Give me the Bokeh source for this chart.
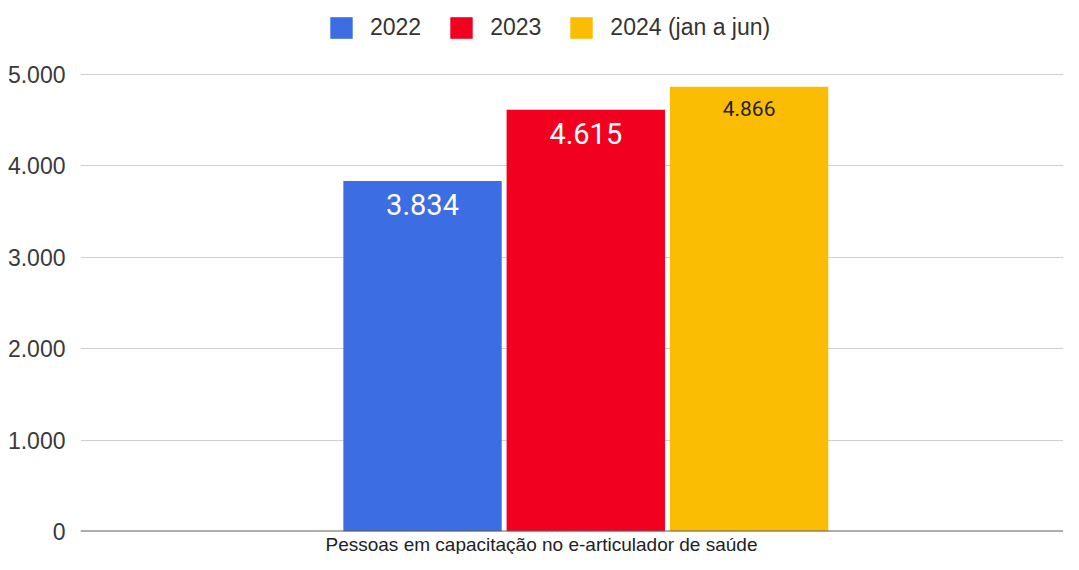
from bokeh.plotting import figure
from bokeh.models import ColumnDataSource, Range1d, FixedTicker, Legend, LegendItem, Span, Title
from bokeh.embed import file_html
from bokeh.resources import INLINE
from bokeh.core.properties import value

# ---- data ----
category = "Pessoas em capacitação no e-articulador de saúde"
series = ["2022", "2023", "2024 (jan a jun)"]
values = [3834, 4615, 4866]
y_ticks = [0, 1000, 2000, 3000, 4000, 5000]

# ---- styles ----
colors = ["#3c6de3", "#f2001f", "#fbbc04"]
label_colors = ["#ffffff", "#ffffff", "#222222"]
label_sizes = ["29px", "29px", "21px"]
label_offsets = [13, 13, 14]
FONT = "Liberation Sans"


def fmt(v):
    return f"{v:,}".replace(",", ".")


src = ColumnDataSource(dict(
    x=list(range(len(values))), top=values, color=colors, name=series,
    label=[fmt(v) for v in values], lc=label_colors, ls=label_sizes, lo=label_offsets,
))

# frame spans the full height above the axis so the legend stays inside it;
# the top tick (5.000) lands 74px from the top of the figure
p = figure(width=1063, height=554, output_backend="svg", toolbar_location=None,
           x_range=Range1d(-2.095, 3.926), y_range=Range1d(0, 5810),
           min_border_left=80, min_border_right=0, min_border_top=0, min_border_bottom=23)
p.outline_line_color = None
p.background_fill_color = "white"

r = p.vbar(x="x", top="top", width=0.97, bottom=0, fill_color="color", line_color=None, source=src)
p.text(x="x", y="top", text="label", text_color="lc", text_font_size="ls", y_offset="lo",
       text_align="center", text_baseline="top", text_font=value("Roboto"), source=src)

# axes
p.yaxis.ticker = FixedTicker(ticks=y_ticks)
p.yaxis.major_label_overrides = {t: fmt(t) for t in y_ticks}
p.yaxis.axis_line_color = None
p.yaxis.major_tick_line_color = None
p.yaxis.minor_tick_line_color = None
p.yaxis.major_label_standoff = 9
p.yaxis.major_label_text_font = FONT
p.yaxis.major_label_text_font_size = "23px"
p.yaxis.major_label_text_color = "#3a3a3a"

p.xaxis.visible = False
p.xgrid.grid_line_color = None
p.ygrid.ticker = FixedTicker(ticks=y_ticks)
p.ygrid.grid_line_color = "#d0d0d0"
p.ygrid.grid_line_width = 1

p.add_layout(Span(location=0, dimension="width", line_color="#5f5f5f", line_width=2))

# category label below the plot
p.add_layout(Title(text=category, align="left", offset=245, standoff=0,
                   text_font=FONT, text_font_size="19px", text_font_style="normal",
                   text_color="#222222"), "below")

# legend
items = [LegendItem(label=s, renderers=[r], index=i) for i, s in enumerate(series)]
legend = Legend(items=items, orientation="horizontal", location=(247, 490),
                glyph_width=28, glyph_height=27, label_standoff=15, spacing=26,
                padding=0, margin=0, border_line_color=None, background_fill_alpha=0,
                label_text_font=FONT, label_text_font_size="23px", label_text_color="#333333")
p.add_layout(legend, "center")

open("out.html", "w").write(file_html(p, INLINE))
